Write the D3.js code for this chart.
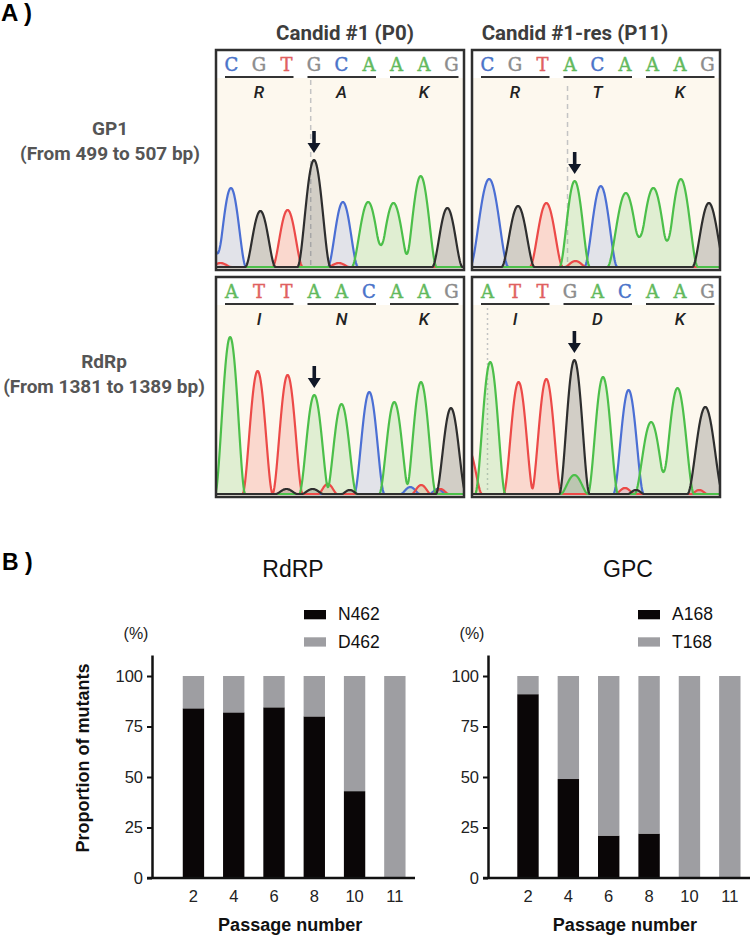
<!DOCTYPE html>
<html><head><meta charset="utf-8">
<script src="https://cdn.jsdelivr.net/npm/d3@7"></script>
<style>body{margin:0;background:#fff} svg{display:block}</style>
</head><body><svg id="c" width="753" height="938"></svg>
<script>
// ---------------- DATA ----------------
const columnTitles = ["Candid #1 (P0)", "Candid #1-res (P11)"];
const rowTitles = [["GP1", "(From 499 to 507 bp)"], ["RdRp", "(From 1381 to 1389 bp)"]];

const seqGP1_P0  = ["C","G","T","G","C","A","A","A","G"];
const seqGP1_P11 = ["C","G","T","A","C","A","A","A","G"];
const seqRdRp_P0  = ["A","T","T","A","A","C","A","A","G"];
const seqRdRp_P11 = ["A","T","T","G","A","C","A","A","G"];
const aaGP1_P0  = ["R","A","K"];
const aaGP1_P11 = ["R","T","K"];
const aaRdRp_P0  = ["I","N","K"];
const aaRdRp_P11 = ["I","D","K"];

// peaks: [channel, position (base units), height (signal), width (base units), marked]
const peaksGP1_P0 = [
  ["C",-0.85,35,0.5],["C",-0.02,79,0.55],["G",1.05,56,0.55],["T",2.04,57,0.55],
  ["G",3.0,107,0.6,true],["C",4.05,65,0.55],["A",4.97,65,0.6],["A",5.89,64,0.6],
  ["A",6.88,91,0.58],["G",7.85,59,0.55],["A",8.95,40,0.5],
  ["T",-0.4,4,0.4],["T",3.9,4,0.4]
];
const peaksGP1_P11 = [
  ["C",0.06,88,0.7],["G",1.11,61,0.6],["T",2.14,64,0.6],["A",3.17,86,0.55,true],
  ["C",4.12,81,0.6],["A",5.03,74,0.67],["A",6.03,79,0.67],["A",7.03,88,0.62],
  ["G",8.05,64,0.6],["T",3.2,6,0.4]
];
const peaksRdRp_P0 = [
  ["A",-0.05,157,0.55],["T",0.95,123,0.55],["T",2.04,119,0.55],["A",3.01,99,0.55,true],
  ["A",4.0,90,0.55],["C",5.01,102,0.55],["A",5.92,92,0.55],["A",6.89,112,0.55],
  ["G",7.98,86,0.55],
  ["G",2.0,5,0.4],["T",3.5,10,0.35],["G",2.95,5,0.4],["C",6.5,7,0.35],["T",6.9,9,0.35],
  ["C",7.5,5,0.3],["T",7.6,5,0.3],["G",4.3,4,0.3]
];
const peaksRdRp_P11 = [
  ["T",-0.7,45,0.5],["A",0.1,132,0.55],["T",1.13,112,0.55],["T",2.14,115,0.55],
  ["G",3.16,134,0.55,true],["A",3.16,19,0.5],["A",4.2,117,0.55],["C",5.13,104,0.55],
  ["A",5.95,72,0.6],["A",6.91,106,0.6],["G",7.92,87,0.65],
  ["T",5.0,6,0.35],["G",5.4,4,0.3],["T",7.7,4,0.3]
];

const passages = ["2","4","6","8","10","11"];
const rdrpN462 = [84, 82, 84.5, 80, 43, 0];
const rdrpD462 = [16, 18, 15.5, 20, 57, 100];
const gpcA168  = [91, 49, 21, 22, 0, 0];
const gpcT168  = [9, 51, 79, 78, 100, 100];
const yTicks = [0, 25, 50, 75, 100];

// ---------------- STYLE ----------------
const strokeCol = {A:"#4cbf4a", C:"#4b6fd4", G:"#2e2e2e", T:"#ec4a48"};
const fillCol = {A:"rgba(110,200,100,0.20)", C:"rgba(90,120,210,0.16)", G:"rgba(60,60,60,0.22)", T:"rgba(240,90,80,0.20)"};
const letterCol = {A:"#62b95c", C:"#4a73c9", G:"#8c8c8c", T:"#e06060"};
const sansA = "Roboto, 'Liberation Sans', sans-serif";
const sansB = "'Liberation Sans', Arial, sans-serif";

const svg = d3.select("#c");

// ---------------- PANEL A ----------------
svg.append("text").attr("x", 1).attr("y", 21).attr("font-family", sansB)
  .attr("font-weight", 700).attr("font-size", 24).attr("fill", "#000").text("A )");

const colX = [216, 472], rowY = [50, 277], boxW = 248, boxH = 220;
columnTitles.forEach((t, i) => {
  svg.append("text").attr("x", i === 0 ? 345 : 575).attr("y", 40).attr("text-anchor", "middle")
    .attr("font-family", sansA).attr("font-weight", 700).attr("font-size", 20.5)
    .attr("fill", "#3d3d3d").text(t);
});
const rowLabelX = [110, 104], rowLabelY = [135, 368];
rowTitles.forEach((t, i) => {
  t.forEach((s, j) => {
    svg.append("text").attr("x", rowLabelX[i]).attr("y", rowLabelY[i] + j * 24.5)
      .attr("text-anchor", "middle").attr("font-family", sansA).attr("font-weight", 700)
      .attr("font-size", 19).attr("fill", "#555").text(s);
  });
});

const panels = [
  {c:0, r:0, seq:seqGP1_P0, aa:aaGP1_P0, peaks:peaksGP1_P0, guide:{pos:2.88, y0:30, dash:"5,4"}},
  {c:1, r:0, seq:seqGP1_P11, aa:aaGP1_P11, peaks:peaksGP1_P11, guide:{pos:2.91, y0:36, dash:"5,4"}},
  {c:0, r:1, seq:seqRdRp_P0, aa:aaRdRp_P0, peaks:peaksRdRp_P0, guide:null},
  {c:1, r:1, seq:seqRdRp_P11, aa:aaRdRp_P11, peaks:peaksRdRp_P11, guide:{pos:0.0, y0:26, dash:"2,3"}}
];

panels.forEach((p, k) => {
  const left = colX[p.c], top = rowY[p.r];
  const g = svg.append("g");
  const x = d3.scaleLinear().domain([0, 8]).range([left + 15.5, left + 235.5]);
  const base = top + 217;
  const y = d3.scaleLinear().domain([0, 160]).range([base, base - 160]);
  const clipId = "clip" + k;
  g.append("clipPath").attr("id", clipId).append("rect")
    .attr("x", left).attr("y", top).attr("width", boxW).attr("height", boxH);
  g.append("rect").attr("x", left).attr("y", top).attr("width", boxW).attr("height", boxH).attr("fill", "#fff");
  g.append("rect").attr("x", left).attr("y", top + 28).attr("width", boxW).attr("height", boxH - 28).attr("fill", "#fdf8ee");

  if (p.guide) {
    g.append("line").attr("x1", x(p.guide.pos)).attr("x2", x(p.guide.pos))
      .attr("y1", top + p.guide.y0).attr("y2", base)
      .attr("stroke", "#c4c4c4").attr("stroke-width", 1.5).attr("stroke-dasharray", p.guide.dash);
  }

  const xs = d3.range(-1.6, 9.6, 0.02);
  const channels = ["C", "T", "A", "G"];
  const curves = channels.map(ch => {
    const pk = p.peaks.filter(d => d[0] === ch);
    return {ch, pts: xs.map(v => {
      let s = 0;
      pk.forEach(d => { const u = (v - d[1]) / d[3]; if (Math.abs(u) < 1) s += d[2] * (1 - u * u) * (1 - u * u); });
      return [v, s];
    })};
  });
  const area = d3.area().x(d => x(d[0])).y0(y(0)).y1(d => y(d[1])).curve(d3.curveLinear);
  const line = d3.line().x(d => x(d[0])).y(d => y(d[1])).curve(d3.curveLinear);
  const tg = g.append("g").attr("clip-path", `url(#${clipId})`);
  curves.forEach(c => tg.append("path").attr("d", area(c.pts)).attr("fill", fillCol[c.ch]));
  curves.forEach(c => tg.append("path").attr("d", line(c.pts)).attr("fill", "none")
    .attr("stroke", strokeCol[c.ch]).attr("stroke-width", 2.2).attr("stroke-linejoin", "round"));

  g.selectAll(null).data(p.seq).join("text")
    .attr("x", (d, i) => x(i)).attr("y", top + 21).attr("text-anchor", "middle")
    .attr("font-family", "'DejaVu Serif', 'Liberation Serif', serif").attr("font-size", 18)
    .attr("fill", d => letterCol[d]).attr("stroke", d => letterCol[d]).attr("stroke-width", 0.45)
    .text(d => d);
  p.aa.forEach((a, ci) => {
    g.append("line").attr("x1", x(ci * 3) - 6.5).attr("x2", x(ci * 3 + 2) + 7)
      .attr("y1", top + 27).attr("y2", top + 27).attr("stroke", "#333").attr("stroke-width", 2);
    g.append("text").attr("x", x(ci * 3 + 1)).attr("y", top + 48).attr("text-anchor", "middle")
      .attr("font-family", sansA).attr("font-style", "italic").attr("font-weight", 500)
      .attr("font-size", 17).attr("fill", "#222").text(a);
  });

  const m = p.peaks.find(d => d[4]);
  const ax = x(m[1]), tip = y(m[2]) - 7;
  g.append("path").attr("d",
    `M${ax - 1.8},${tip - 22} L${ax + 1.8},${tip - 22} L${ax + 1.8},${tip - 10} L${ax + 6.5},${tip - 10} L${ax},${tip} L${ax - 6.5},${tip - 10} L${ax - 1.8},${tip - 10} Z`)
    .attr("fill", "#111827");

  g.append("rect").attr("x", left).attr("y", top).attr("width", boxW).attr("height", boxH)
    .attr("fill", "none").attr("stroke", "#2f2f2f").attr("stroke-width", 2.5);
});

// ---------------- PANEL B ----------------
svg.append("text").attr("x", 2).attr("y", 570).attr("font-family", sansB)
  .attr("font-weight", 700).attr("font-size", 23).attr("fill", "#000").text("B )");

const charts = [
  {title:"RdRP", names:["N462","D462"], a:rdrpN462, b:rdrpD462, axisX:152, x0:173.3, x1:415, showY:true, titleX:293, legX:304},
  {title:"GPC",  names:["A168","T168"], a:gpcA168,  b:gpcT168,  axisX:488, x0:507.8, x1:750, showY:false, titleX:628, legX:638}
];
const colBlack = "#0a0607", colGray = "#9e9ea2";

charts.forEach(ch => {
  const g = svg.append("g");
  const y = d3.scaleLinear().domain([0, 110.4]).range([878, 655]);
  const x = d3.scaleBand().domain(passages).range([ch.x0, ch.x1]).paddingInner(0.47).paddingOuter(0.235);
  const rows = passages.map((p, i) => ({p, a: ch.a[i], b: ch.b[i]}));
  const stack = d3.stack().keys(["a", "b"])(rows);
  const cols = [colBlack, colGray];
  stack.forEach((layer, li) => {
    g.selectAll(null).data(layer).join("rect")
      .attr("x", d => x(d.data.p)).attr("width", x.bandwidth())
      .attr("y", d => y(d[1])).attr("height", d => y(d[0]) - y(d[1]))
      .attr("fill", cols[li]);
  });

  const ya = g.append("g").attr("transform", `translate(${ch.axisX},0)`)
    .call(d3.axisLeft(y).tickValues(yTicks).tickSize(5).tickSizeOuter(0).tickPadding(4));
  ya.select(".domain").attr("stroke", "#111").attr("stroke-width", 2.5);
  ya.selectAll(".tick line").attr("stroke", "#111").attr("stroke-width", 2);
  ya.selectAll("text").attr("font-family", sansB).attr("font-size", 16.5).attr("fill", "#222");

  g.append("line").attr("x1", ch.axisX - 5).attr("x2", ch.x1).attr("y1", y(0)).attr("y2", y(0))
    .attr("stroke", "#111").attr("stroke-width", 2.5);
  const xa = g.append("g").attr("transform", `translate(0,${y(0)})`)
    .call(d3.axisBottom(x).tickSize(0).tickPadding(12));
  xa.select(".domain").remove();
  xa.selectAll("text").attr("font-family", sansB).attr("font-size", 16.5).attr("fill", "#222");

  g.append("text").attr("x", ch.titleX).attr("y", 577).attr("text-anchor", "middle")
    .attr("font-family", sansB).attr("font-size", 23).attr("fill", "#111").text(ch.title);
  g.append("text").attr("x", (ch.x0 + ch.x1) / 2 - 4).attr("y", 931).attr("text-anchor", "middle")
    .attr("font-family", sansB).attr("font-weight", 700).attr("font-size", 18).attr("fill", "#111")
    .text("Passage number");
  g.append("text").attr("x", ch.axisX - 16).attr("y", 639).attr("text-anchor", "middle")
    .attr("font-family", sansB).attr("font-size", 16).attr("fill", "#222").text("(%)");

  ch.names.forEach((n, i) => {
    g.append("rect").attr("x", ch.legX).attr("y", 610 + i * 27.3).attr("width", 22).attr("height", 9.3)
      .attr("fill", cols[i]);
    g.append("text").attr("x", ch.legX + 34).attr("y", 620 + i * 27.5)
      .attr("font-family", sansB).attr("font-size", 17.5).attr("fill", "#111").text(n);
  });

  if (ch.showY) {
    g.append("text").attr("transform", "translate(89,758) rotate(-90)").attr("text-anchor", "middle")
      .attr("font-family", sansB).attr("font-weight", 700).attr("font-size", 18).attr("fill", "#111")
      .text("Proportion of mutants");
  }
});
</script></body></html>
